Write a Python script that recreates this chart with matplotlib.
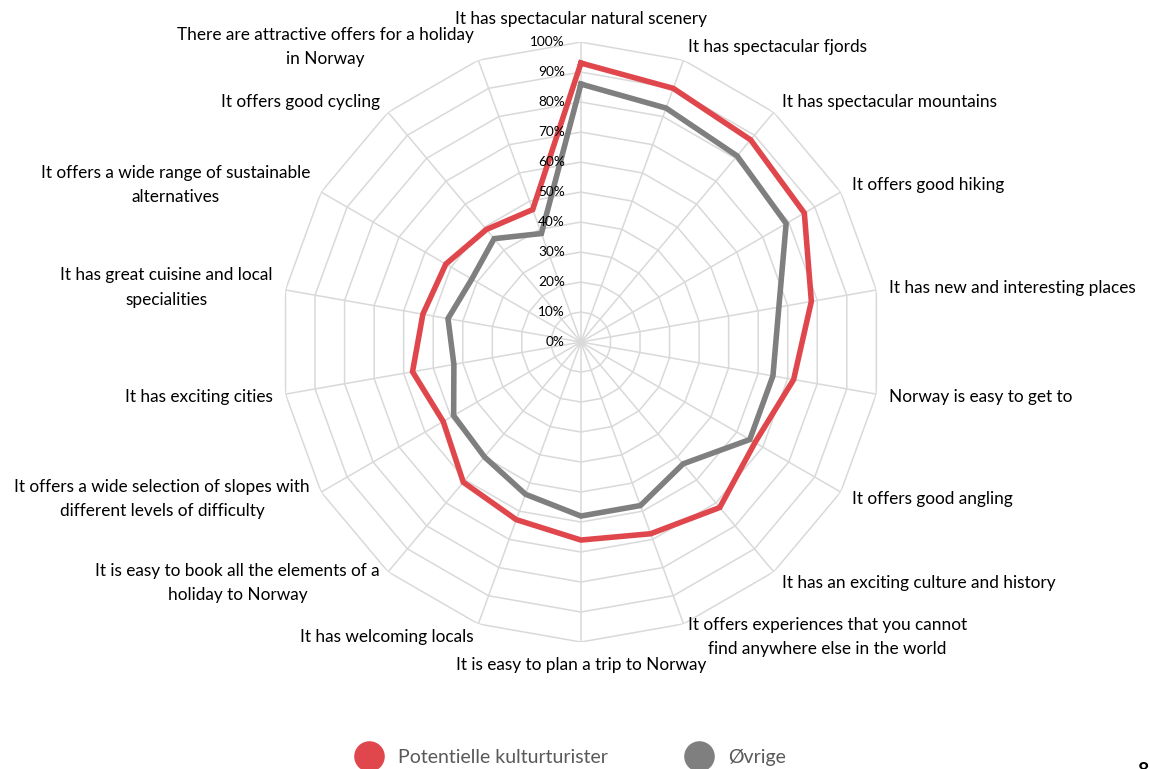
import numpy as np
import matplotlib.pyplot as plt
from matplotlib.lines import Line2D

plt.rcParams['font.family'] = ['Lato', 'DejaVu Sans']

labels = [
    'It has spectacular natural scenery',
    'It has spectacular fjords',
    'It has spectacular mountains',
    'It offers good hiking',
    'It has new and interesting places',
    'Norway is easy to get to',
    'It offers good angling',
    'It has an exciting culture and history',
    'It offers experiences that you cannot\nfind anywhere else in the world',
    'It is easy to plan a trip to Norway',
    'It has welcoming locals',
    'It is easy to book all the elements of a\nholiday to Norway',
    'It offers a wide selection of slopes with\ndifferent levels of difficulty',
    'It has exciting cities',
    'It has great cuisine and local\nspecialities',
    'It offers a wide range of sustainable\nalternatives',
    'It offers good cycling',
    'There are attractive offers for a holiday\nin Norway',
]
kultur = [93, 90, 88, 86, 78, 72, 67, 72, 68, 66, 63, 61, 53, 57, 53.5, 52, 49, 47]
ovrige = [86, 83, 81, 79, 67, 65, 65, 53, 58, 58, 54, 50, 49, 43, 45, 42, 45, 38.5]
series_names = ['Potentielle kulturturister', 'Øvrige']
rings = [0, 10, 20, 30, 40, 50, 60, 70, 80, 90, 100]

RED = '#e0474c'
GREY = '#7f7f7f'
GRID = '#d9d9d9'

n = len(labels)
ang = np.arange(n) * 2 * np.pi / n
ang_c = np.append(ang, ang[0])

fig = plt.figure(figsize=(11.5, 7.69), dpi=100)
ax = fig.add_axes([0.2443, 0.1651, 0.5217, 0.7802], projection='polar')
ax.set_theta_offset(np.pi / 2)
ax.set_theta_direction(-1)
ax.set_ylim(0, 100)
ax.grid(False)
ax.spines['polar'].set_visible(False)
ax.set_xticks([])
ax.set_yticks([])
ax.patch.set_alpha(0)

# polygon grid
for r in rings[1:]:
    ax.plot(ang_c, [r] * (n + 1), color=GRID, lw=1.1, zorder=1)
for a in ang:
    ax.plot([a, a], [0, 100], color=GRID, lw=1.1, zorder=1)

# ring labels
for r in rings:
    ax.annotate(f'{r}%', (0, r), textcoords='offset pixels', xytext=(-16, 0),
                ha='right', va='center', fontsize=9.8, color='#000000', zorder=5)

ax.plot(ang_c, kultur + kultur[:1], color=RED, lw=4.0, zorder=3, solid_joinstyle='miter')
ax.plot(ang_c, ovrige + ovrige[:1], color=GREY, lw=4.0, zorder=3, solid_joinstyle='miter')

# category labels
for a, lab in zip(ang, labels):
    s, c = np.sin(a), np.cos(a)
    if abs(s) < 0.1:
        ha = 'center'
        va = 'bottom' if c > 0 else 'top'
        off = (0, 15 * np.sign(c))
    else:
        ha = 'left' if s > 0 else 'right'
        va = 'center'
        off = (13 * s, 14 * c)
    ax.annotate(lab, (a, 100), textcoords='offset pixels', xytext=off,
                ha=ha, va=va, multialignment='center', fontsize=12.4,
                color='#000000', linespacing=1.62, annotation_clip=False)

handles = [Line2D([], [], ls='none', marker='o', markersize=21, color=RED, mec=RED),
           Line2D([], [], ls='none', marker='o', markersize=21, color=GREY, mec=GREY)]
fig.legend(handles, series_names, loc='center', bbox_to_anchor=(0.497, 0.0156),
           ncol=2, frameon=False, fontsize=14, labelcolor='#595959',
           handletextpad=0.9, columnspacing=4.1, handlelength=1.2)

fig.text(1137 / 1150, -0.002, '8', fontsize=14, fontweight='bold', va='center')

fig.savefig('out.png', dpi=100)
